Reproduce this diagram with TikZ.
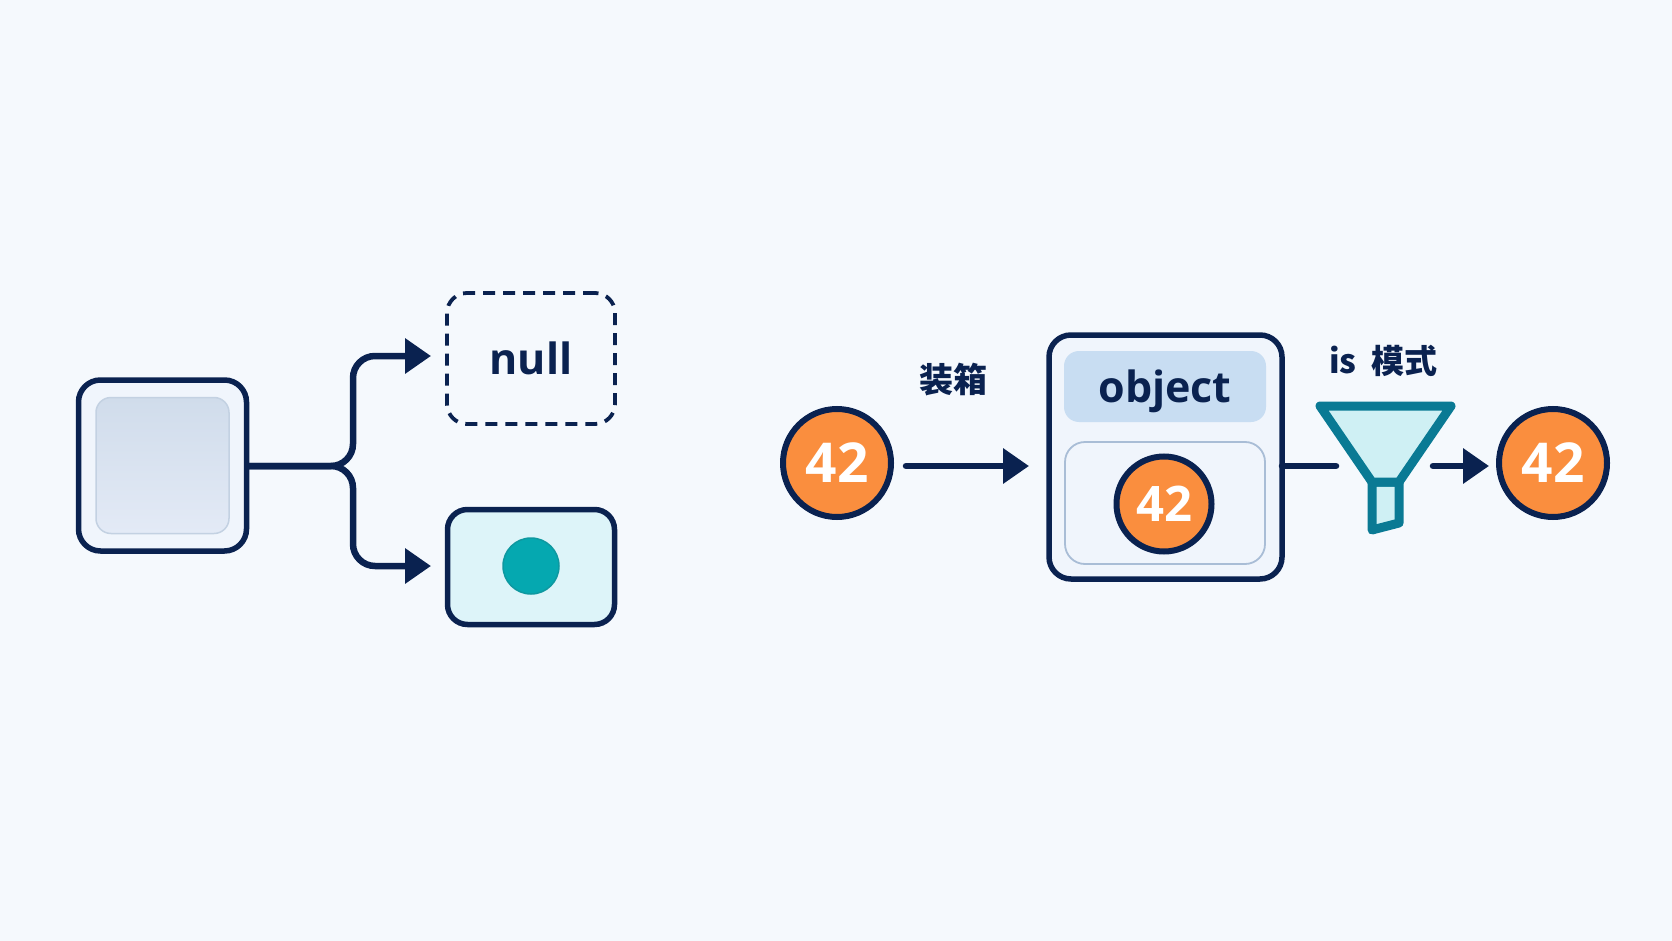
\documentclass[tikz,border=0pt]{standalone}
\usepackage{fontspec}
\setmainfont{Open Sans}
\newfontfamily\cjkfont{Noto Sans CJK SC}
\usetikzlibrary{arrows.meta}
\definecolor{bgc}{HTML}{F5F9FD}
\definecolor{navy}{HTML}{0A2250}
\definecolor{orangec}{HTML}{FA8E3E}
\definecolor{tealc}{HTML}{0A7A94}
\definecolor{tealfill}{HTML}{CFF0F4}
\definecolor{valfill}{HTML}{DDF4F9}
\definecolor{hdr}{HTML}{C8DDF2}
\definecolor{softline}{HTML}{A9BDD6}
\definecolor{boxfill}{HTML}{F0F5FC}
\definecolor{innertop}{HTML}{D0DCEB}
\definecolor{innerbot}{HTML}{E3EAF6}
\definecolor{dotfill}{HTML}{05A8B0}
\definecolor{dotline}{HTML}{0E98A0}
\tikzset{
  x=1pt,y=-1pt,
  card/.style={draw=navy,line width=5.5pt,rounded corners=#1,outer sep=0pt,inner sep=0pt,text=navy,font=\fontsize{43}{50}\selectfont\bfseries},
  card/.default=20pt,
  flow/.style={draw=navy,line width=6.5pt,rounded corners=22pt},
  headtip/.style={-{Triangle[length=26pt,width=34pt]}},
  plain/.style={draw=navy,line width=6.5pt,line cap=round},
  num/.style={circle,draw=navy,fill=orangec,line width=6pt,outer sep=0pt,inner sep=0pt,text=white,font=\fontsize{#1}{#1}\selectfont\bfseries},
  lab/.style={text=navy,inner sep=0pt,font=\fontsize{#1}{38}\selectfont\bfseries\cjkfont},
  funnelline/.style={draw=tealc,fill=tealfill,line width=9pt,line join=round}
}
\begin{document}
\begin{tikzpicture}
\useasboundingbox (0,0) rectangle (1672,941);
\fill[bgc] (0,0) rectangle (1672,941);
% left group
\node[card=22pt,fill=boxfill,minimum width=168pt,minimum height=171pt] (src) at (162.5,465.5) {};
\node[draw=softline!70,line width=1.5pt,rounded corners=15pt,top color=innertop,bottom color=innerbot,minimum width=133pt,minimum height=136pt,outer sep=0pt] (inner) at (162.5,465.5) {};
\node[card=20pt,draw=navy,line width=3.8pt,dash pattern=on 12pt off 8pt,minimum width=168pt,minimum height=131pt] (nullbox) at (531,358.5) {null};
\node[card=20pt,fill=valfill,minimum width=167pt,minimum height=115pt] (valbox) at (531,567) {};
\node[circle,fill=dotfill,draw=dotline,line width=1.5pt,minimum size=56pt,inner sep=0pt] (dot) at (531,566) {};
\coordinate (fork) at (353,466);
\coordinate (tipa) at (431,356);
\coordinate (tipb) at (431,566);
\draw[flow,headtip] (src.east |- fork) -- (fork) -- (fork |- tipa) -- (tipa);
\draw[flow,headtip] (src.east |- fork) -- (fork) -- (fork |- tipb) -- (tipb);
% right group
\node[num=55,minimum size=108pt] (n1) at (837,463) {42};
\node[card=22pt,fill=boxfill,minimum width=233pt,minimum height=244pt] (obj) at (1165.5,457) {};
\node[fill=hdr,rounded corners=15pt,minimum width=202pt,minimum height=71pt,inner sep=0pt,text depth=0pt,text=navy,font=\fontsize{43}{50}\selectfont\bfseries] (hdrbox) at (1165,386.5) {object};
\node[draw=softline,line width=1.8pt,rounded corners=20pt,minimum width=200pt,minimum height=122pt,outer sep=0pt] (slot) at (1165,503) {};
\node[num=49,minimum size=95pt] (n2) at (1164,504) {42};
\node[num=55,minimum size=108pt] (n3) at (1553,463) {42};
\node[lab=34] (boxing) at (953.5,380) {装箱};
\node[lab=33] (islab) at (1383,361) {is\hspace{7pt} 模式};
\coordinate (a1s) at (906,466);
\coordinate (a1e) at (1029,466);
\coordinate (a2e) at (1336,466);
\coordinate (a3s) at (1433,466);
\coordinate (a3e) at (1489,466);
\draw[plain,headtip] (a1s) -- (a1e);
\draw[plain] (obj.east |- a2e) -- (a2e);
\draw[plain,headtip] (a3s) -- (a3e);
% funnel
\draw[funnelline] (1372,482) -- (1399,482) -- (1399,523) -- (1372,530) -- cycle;
\draw[funnelline] (1320,406) -- (1451,406) -- (1399,482) -- (1372,482) -- cycle;
\end{tikzpicture}
\end{document}
